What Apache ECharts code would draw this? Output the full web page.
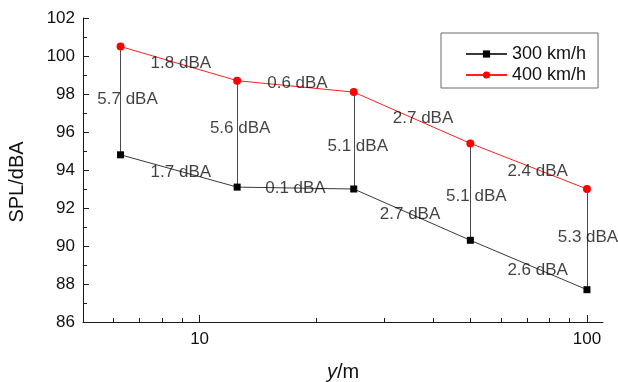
<!DOCTYPE html>
<html>
<head>
<meta charset="utf-8">
<script src="https://cdn.jsdelivr.net/npm/echarts@6/dist/echarts.min.js"></script>
<style>
  html, body { margin: 0; padding: 0; background: #fff; }
  #chart { width: 618px; height: 382px; }
</style>
</head>
<body>
<div id="chart"></div>
<script>
// Distance from the track (m) and sound pressure level at two train speeds
const distances = [6.25, 12.5, 25, 50, 100];
const spl300 = [94.8, 93.1, 93.0, 90.3, 87.7];
const spl400 = [100.5, 98.7, 98.1, 95.4, 93.0];
const seriesNames = ['300 km/h', '400 km/h'];

const xMajorTicks = [10, 100];
const xMinorTicks = [6, 7, 8, 9, 20, 30, 40, 50, 60, 70, 80, 90];
const yTicks = [86, 88, 90, 92, 94, 96, 98, 100, 102];

const FONT = 'Arial, "Liberation Sans", sans-serif';
const TEXT = '#111111';
const fmt = v => v.toFixed(1) + ' dBA';

// Pixel nudges for the annotation text so it sits clear of the lines
const gapOffsets = [[7, -1], [3, -6], [4, 6], [6, 4], [1, -2]];
const drop300Offsets = [[2, 1], [0, 0], [-2, 0], [9, 5]];
const drop400Offsets = [[2, 0], [2, -3], [11, 1], [9, 5]];

// Vertical connectors between the two speeds at each distance
const connectors = distances.map((x, i) => ({ coords: [[x, spl300[i]], [x, spl400[i]]] }));

// Labels: gap between speeds (midway on each connector)
const gapLabels = distances.map((x, i) => ({
  value: [x, (spl300[i] + spl400[i]) / 2],
  text: fmt(spl400[i] - spl300[i]),
  offset: gapOffsets[i]
}));

// Labels: drop between neighbouring distances (midway on each segment)
function dropLabels(vals, offsets) {
  const out = [];
  for (let i = 0; i < vals.length - 1; i++) {
    out.push({
      value: [Math.sqrt(distances[i] * distances[i + 1]), (vals[i] + vals[i + 1]) / 2],
      text: fmt(vals[i] - vals[i + 1]),
      offset: offsets[i]
    });
  }
  return out;
}
const dropLabels300 = dropLabels(spl300, drop300Offsets);
const dropLabels400 = dropLabels(spl400, drop400Offsets);

function labelSeries(items) {
  return {
    type: 'scatter',
    xAxisIndex: 0,
    symbolSize: 0,
    silent: true,
    z: 10,
    data: items.map(d => ({ value: d.value, label: { formatter: d.text, offset: d.offset } })),
    label: {
      show: true,
      position: 'inside',
      align: 'center',
      verticalAlign: 'middle',
      color: TEXT,
      textBorderWidth: 0,
      textBorderColor: 'transparent',
      fontSize: 17,
      fontFamily: FONT
    }
  };
}

const chart = echarts.init(document.getElementById('chart'), null, { renderer: 'canvas' });

const logAxisBase = {
  type: 'log',
  logBase: 10,
  min: 5,
  max: 110,
  position: 'bottom',
  gridIndex: 0
};

chart.setOption({
  animation: false,
  backgroundColor: '#ffffff',
  grid: { left: 83, right: 15, top: 18, bottom: 60, containLabel: false, outerBoundsMode: 'none' },
  legend: {
    orient: 'vertical',
    left: 441,
    top: 33,
    width: 159,
    padding: [12, 12, 4, 24],
    itemGap: 3,
    itemWidth: 41,
    itemHeight: 9,
    borderColor: '#6a6a6a',
    borderWidth: 1,
    data: seriesNames,
    textStyle: { fontSize: 18, fontFamily: FONT, color: TEXT }
  },
  xAxis: [
    Object.assign({}, logAxisBase, {
      name: '{i|y}/m',
      nameLocation: 'middle',
      nameGap: 40,
      nameTextStyle: {
        fontSize: 20, fontFamily: FONT, color: TEXT,
        rich: { i: { fontStyle: 'italic', fontSize: 20, fontFamily: FONT, color: TEXT } }
      },
      axisLine: { show: true, lineStyle: { color: '#1a1a1a', width: 1 } },
      axisTick: { show: true, inside: true, length: 7, customValues: xMajorTicks, lineStyle: { color: '#1a1a1a' } },
      axisLabel: { show: true, customValues: xMajorTicks, margin: 9, fontSize: 17, fontFamily: FONT, color: TEXT },
      splitLine: { show: false },
      minorTick: { show: false }
    }),
    Object.assign({}, logAxisBase, {
      axisLine: { show: false },
      axisTick: { show: true, inside: true, length: 4, customValues: xMinorTicks, lineStyle: { color: '#1a1a1a' } },
      axisLabel: { show: false, customValues: xMinorTicks },
      splitLine: { show: false }
    })
  ],
  yAxis: {
    type: 'value',
    min: 86,
    max: 102,
    interval: 2,
    name: 'SPL/dBA',
    nameLocation: 'middle',
    nameGap: 56,
    nameTextStyle: { fontSize: 20, fontFamily: FONT, color: TEXT, padding: [0, 24, 0, 0] },
    axisLine: { show: true, lineStyle: { color: '#1a1a1a', width: 1 } },
    axisTick: { show: true, inside: true, length: 6, lineStyle: { color: '#1a1a1a' } },
    minorTick: { show: true, splitNumber: 2, length: 4, lineStyle: { color: '#1a1a1a' } },
    axisLabel: {
      margin: 8, fontSize: 17, fontFamily: FONT, color: TEXT,
      formatter: v => (yTicks.indexOf(v) >= 0 ? String(v) : '')
    },
    splitLine: { show: false }
  },
  series: [
    {
      type: 'lines',
      coordinateSystem: 'cartesian2d',
      xAxisIndex: 0,
      silent: true,
      z: 1,
      lineStyle: { color: '#4a4a4a', width: 1, opacity: 1 },
      data: connectors
    },
    {
      name: seriesNames[0],
      type: 'line',
      xAxisIndex: 0,
      z: 3,
      data: distances.map((x, i) => [x, spl300[i]]),
      symbol: 'rect',
      symbolSize: 7,
      itemStyle: { color: '#000000' },
      lineStyle: { color: '#3a3a3a', width: 1 }
    },
    {
      name: seriesNames[1],
      type: 'line',
      xAxisIndex: 0,
      z: 3,
      data: distances.map((x, i) => [x, spl400[i]]),
      symbol: 'circle',
      symbolSize: 8,
      itemStyle: { color: '#ff0000' },
      lineStyle: { color: '#ff2020', width: 1 }
    },
    labelSeries(gapLabels),
    labelSeries(dropLabels300),
    labelSeries(dropLabels400)
  ]
});
</script>
</body>
</html>
